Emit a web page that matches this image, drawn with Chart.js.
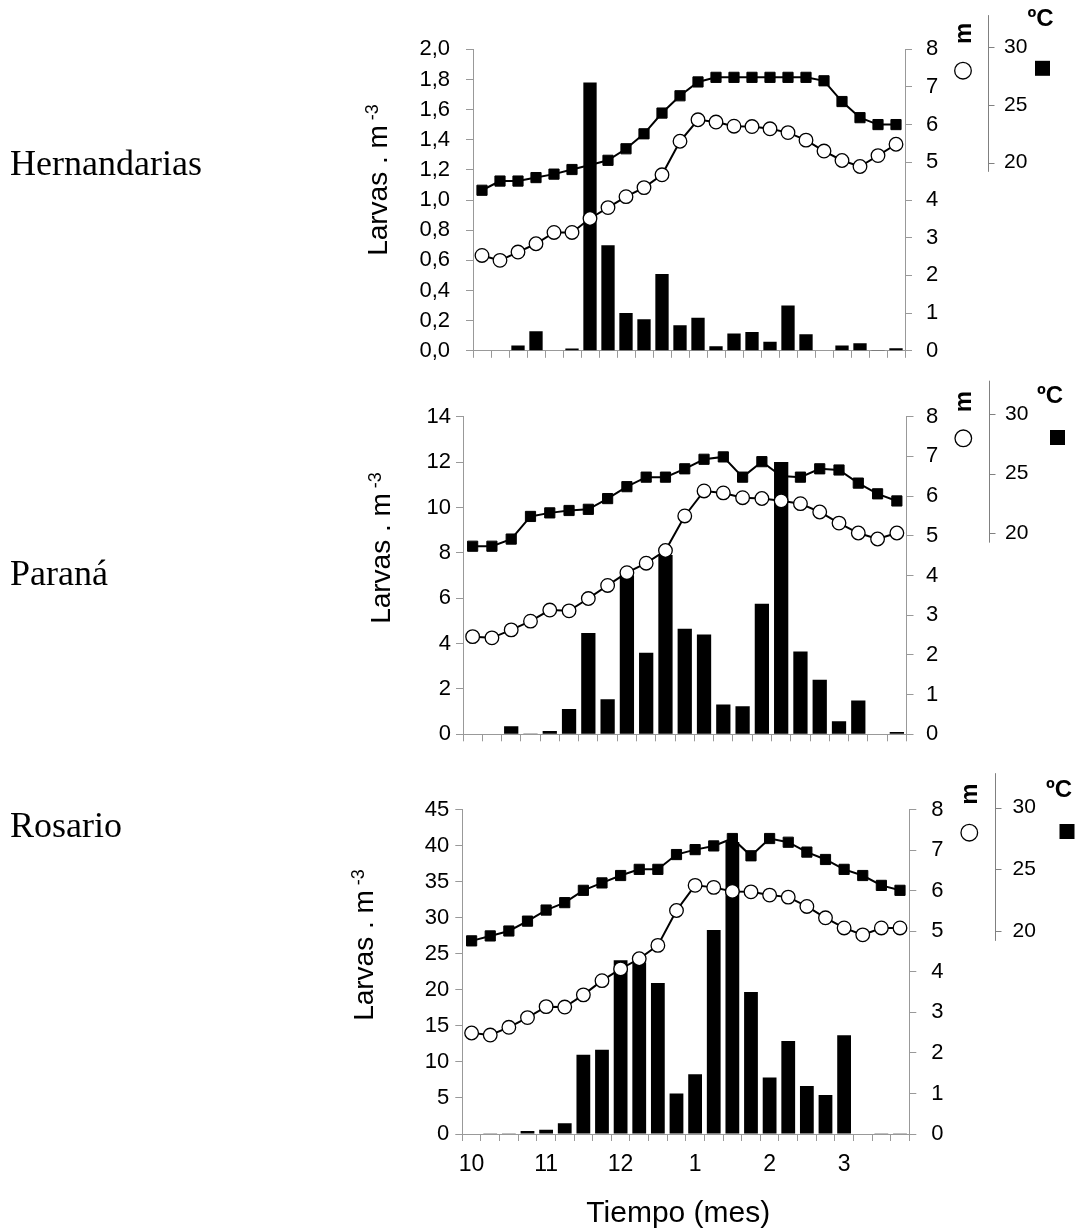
<!DOCTYPE html>
<html>
<head>
<meta charset="utf-8">
<script src="https://cdn.jsdelivr.net/npm/chart.js@4.4.1/dist/chart.umd.min.js"></script>
<style>
  html, body { margin: 0; padding: 0; background: #fff; }
  body { width: 1076px; height: 1229px; position: relative; overflow: hidden; }
  canvas { position: absolute; left: 0; }
</style>
</head>
<body>
<canvas id="chartHern" width="1076" height="380" style="top:0;width:1076px;height:380px"></canvas>
<canvas id="chartPara" width="1076" height="380" style="top:380px;width:1076px;height:380px"></canvas>
<canvas id="chartRos" width="1076" height="469" style="top:760px;width:1076px;height:469px"></canvas>
<script>
// muestreos semanales de octubre a marzo
const mesesTicks = ['10','','','','11','','','','12','','','','1','','','','2','','','','3','','',''];
const tempTicks = [20, 25, 30];

// Hernandarias
const larvasHern = [0, 0, 0.035, 0.13, 0, 0.015, 1.78, 0.70, 0.25, 0.21, 0.51, 0.17, 0.22, 0.03, 0.115, 0.125, 0.06, 0.30, 0.11, 0, 0.035, 0.05, 0.006, 0.017];
const nivelHern = [2.53, 2.40, 2.62, 2.84, 3.14, 3.14, 3.51, 3.80, 4.09, 4.33, 4.67, 5.56, 6.13, 6.07, 5.96, 5.95, 5.89, 5.79, 5.59, 5.30, 5.05, 4.89, 5.18, 5.48];
const tempHern = [17.6, 18.4, 18.4, 18.7, 19.0, 19.4, 19.8, 20.2, 21.2, 22.5, 24.3, 25.8, 27.0, 27.4, 27.4, 27.4, 27.4, 27.4, 27.4, 27.1, 25.3, 23.9, 23.3, 23.3];

// Paraná (23 muestreos)
const larvasPara = [0, 0, 0.36, 0.04, 0.15, 1.11, 4.46, 1.55, 7.0, 3.60, 7.9, 4.65, 4.40, 1.31, 1.24, 5.76, 12.0, 3.65, 2.41, 0.58, 1.49, 0.02, 0.10];
const nivelPara = [2.46, 2.43, 2.63, 2.85, 3.13, 3.11, 3.42, 3.75, 4.07, 4.31, 4.63, 5.50, 6.13, 6.08, 5.96, 5.94, 5.88, 5.81, 5.60, 5.32, 5.07, 4.92, 5.07];
const tempPara = [18.9, 18.9, 19.5, 21.4, 21.7, 21.9, 22.0, 22.9, 23.9, 24.7, 24.7, 25.4, 26.2, 26.4, 24.7, 26.0, 24.8, 24.7, 25.4, 25.3, 24.2, 23.3, 22.7];

// Rosario
const larvasRos = [0, 0.05, 0.05, 0.4, 0.6, 1.48, 11.0, 11.7, 24.1, 23.8, 20.95, 5.6, 8.3, 28.3, 40.5, 19.7, 7.85, 12.9, 6.65, 5.4, 13.7, 0.08, 0.04, 0.03];
const nivelRos = [2.49, 2.44, 2.63, 2.87, 3.14, 3.13, 3.43, 3.78, 4.07, 4.32, 4.65, 5.51, 6.13, 6.08, 5.98, 5.97, 5.89, 5.84, 5.61, 5.33, 5.08, 4.91, 5.08, 5.08];
const tempRos = [19.2, 19.6, 20.0, 20.8, 21.7, 22.3, 23.3, 23.9, 24.5, 25.0, 25.0, 26.2, 26.6, 26.9, 27.5, 26.1, 27.5, 27.2, 26.4, 25.8, 25.0, 24.5, 23.7, 23.3];

const SANS = '"Liberation Sans", Arial, sans-serif';
const SERIF = '"Liberation Serif", "Times New Roman", serif';
const GRIS = '#999999';

Chart.defaults.font.family = SANS;
Chart.defaults.color = '#000';

// posiciones de cada panel (coordenadas dentro de su canvas)
const paneles = [
  { id: 'chartHern', nombre: 'Hernandarias', alto: 380,
    area: { l: 473, r: 905, t: 49.3, b: 363.3 }, t30: 47.3, t20: 167.3,
    larvas: larvasHern, nivel: nivelHern, temp: tempHern,
    yMax: 2, paso: 0.2, dec: 1, padIzq: 16, padDer: 14,
    nombreY: 175, titulo: [386.7, 180], ejeT: 987.7, tLabX: 1004,
    mLbl: [963.3, 33.3], circ: [963, 70.7], grados: [1040.5, 19], cuad: [1042.5, 68.3] },
  { id: 'chartPara', nombre: 'Paraná', alto: 380,
    area: { l: 463, r: 906.5, t: 36.7, b: 356.7 }, t30: 34, t20: 154,
    larvas: larvasPara, nivel: nivelPara, temp: tempPara,
    yMax: 14, paso: 2, dec: 0, padIzq: 5, padDer: 12.5,
    nombreY: 205, titulo: [390, 168], ejeT: 988.7, tLabX: 1005,
    mLbl: [963.3, 21.7], circ: [963.3, 58.3], grados: [1050, 16.7], cuad: [1057.5, 57.5] },
  { id: 'chartRos', nombre: 'Rosario', alto: 469,
    area: { l: 462.3, r: 909.3, t: 49.5, b: 374 }, t30: 47.7, t20: 171,
    larvas: larvasRos, nivel: nivelRos, temp: tempRos,
    yMax: 45, paso: 5, dec: 0, padIzq: 6, padDer: 15,
    nombreY: 77, titulo: [373.3, 185], ejeT: 994.7, tLabX: 1012.5,
    mLbl: [969, 34], circ: [969.3, 72.7], grados: [1059, 30.5], cuad: [1067, 71.5],
    conMeses: true, xTitulo: [678.3, 461.7] }
];

function tituloLarvas(ctx, x, y) {
  ctx.save();
  ctx.translate(x, y);
  ctx.rotate(-Math.PI / 2);
  ctx.fillStyle = '#000';
  ctx.textAlign = 'left';
  ctx.textBaseline = 'alphabetic';
  const fPrin = '28px ' + SANS, fSup = '18px ' + SANS;
  ctx.font = fPrin;
  const w1 = ctx.measureText('Larvas . m').width;
  ctx.font = fSup;
  const w2 = ctx.measureText(' -3').width;
  const x0 = -(w1 + w2) / 2;
  ctx.font = fPrin;
  ctx.fillText('Larvas . m', x0, 0);
  ctx.font = fSup;
  ctx.fillText(' -3', x0 + w1, -9);
  ctx.restore();
}

// textos, eje de temperatura y simbolos de referencia
function crearExtras(p) {
  return {
    id: 'extras',
    afterDraw(chart) {
      const ctx = chart.ctx;
      const yT = chart.scales.yT;
      ctx.save();
      ctx.fillStyle = '#000';
      ctx.font = '36px ' + SERIF;
      ctx.textAlign = 'left';
      ctx.textBaseline = 'alphabetic';
      ctx.fillText(p.nombre, 10, p.nombreY);

      tituloLarvas(ctx, p.titulo[0], p.titulo[1]);

      if (p.xTitulo) {
        ctx.font = '30px ' + SANS;
        ctx.textAlign = 'center';
        ctx.fillText('Tiempo (mes)', p.xTitulo[0], p.xTitulo[1]);
      }

      // eje de temperatura
      const x = Math.round(p.ejeT) + 0.5;
      ctx.strokeStyle = '#808080';
      ctx.lineWidth = 1;
      ctx.beginPath();
      ctx.moveTo(x, yT.getPixelForValue(32.8));
      ctx.lineTo(x, yT.getPixelForValue(19.2));
      tempTicks.forEach(t => {
        const y = Math.round(yT.getPixelForValue(t)) + 0.5;
        ctx.moveTo(x, y);
        ctx.lineTo(x + 6, y);
      });
      ctx.stroke();
      ctx.font = '21px ' + SANS;
      ctx.textAlign = 'left';
      ctx.textBaseline = 'middle';
      tempTicks.forEach(t => ctx.fillText(String(t), p.tLabX, yT.getPixelForValue(t)));

      // m
      ctx.save();
      ctx.translate(p.mLbl[0], p.mLbl[1]);
      ctx.rotate(-Math.PI / 2);
      ctx.font = 'bold 24px ' + SANS;
      ctx.textAlign = 'center';
      ctx.fillText('m', 0, 1);
      ctx.restore();
      ctx.beginPath();
      ctx.arc(p.circ[0], p.circ[1], 8.3, 0, Math.PI * 2);
      ctx.fillStyle = '#fff';
      ctx.fill();
      ctx.strokeStyle = '#000';
      ctx.lineWidth = 1.3;
      ctx.stroke();

      // ºC
      ctx.fillStyle = '#000';
      ctx.font = 'bold 24px ' + SANS;
      ctx.textAlign = 'center';
      ctx.fillText('ºC', p.grados[0], p.grados[1]);
      ctx.fillRect(p.cuad[0] - 7.5, p.cuad[1] - 7.5, 15, 15);
      ctx.restore();
    }
  };
}

function dibujarPanel(p) {
  const a = p.area;
  const pxGrado = (p.t20 - p.t30) / 10;
  const n = p.larvas.length;

  new Chart(document.getElementById(p.id), {
    type: 'bar',
    data: {
      labels: mesesTicks.slice(0, n),
      datasets: [
        {
          type: 'line', label: 'Nivel (m)', data: p.nivel, yAxisID: 'yM',
          borderColor: '#000', borderWidth: 2, tension: 0,
          pointStyle: 'circle', pointRadius: 6.8, pointBorderWidth: 1.3,
          pointBackgroundColor: '#fff', pointBorderColor: '#000', order: 0
        },
        {
          type: 'line', label: 'Temperatura (ºC)', data: p.temp, yAxisID: 'yT',
          borderColor: '#000', borderWidth: 2, tension: 0,
          pointStyle: 'rect', pointRadius: 7.2, pointBorderWidth: 1,
          pointBackgroundColor: '#000', pointBorderColor: '#000', order: 1
        },
        {
          type: 'bar', label: 'Larvas', data: p.larvas, yAxisID: 'y',
          backgroundColor: '#000', borderWidth: 0,
          barPercentage: 0.74, categoryPercentage: 1, order: 2
        }
      ]
    },
    options: {
      responsive: false,
      devicePixelRatio: 1,
      animation: false,
      layout: { padding: { top: a.t, left: 0, right: 0, bottom: 0 } },
      plugins: { legend: { display: false }, tooltip: { enabled: false } },
      scales: {
        x: {
          offset: true,
          grid: { offset: true, drawOnChartArea: false, tickLength: 7, color: GRIS },
          border: { color: GRIS },
          ticks: { display: !!p.conMeses, autoSkip: false, maxRotation: 0, padding: 10,
                   font: { size: 23 }, color: '#000' },
          afterFit: s => { s.height = p.alto - a.b; }
        },
        y: {
          position: 'left', min: 0, max: p.yMax,
          grid: { drawOnChartArea: false, tickLength: 7, color: GRIS },
          border: { color: GRIS },
          ticks: { stepSize: p.paso, padding: p.padIzq, font: { size: 22 }, color: '#000',
                   callback: v => v.toFixed(p.dec).replace('.', ',') },
          afterFit: s => { s.width = a.l; }
        },
        yM: {
          position: 'right', min: 0, max: 8,
          grid: { drawOnChartArea: false, tickLength: 7, color: GRIS },
          border: { color: GRIS },
          ticks: { stepSize: 1, padding: p.padDer, font: { size: 22 }, color: '#000' },
          afterFit: s => { s.width = 1076 - a.r; }
        },
        yT: {
          display: false, position: 'right',
          min: 30 - (a.b - p.t30) / pxGrado,
          max: 30 - (a.t - p.t30) / pxGrado
        }
      }
    },
    plugins: [crearExtras(p)]
  });
}

paneles.forEach(dibujarPanel);
</script>
</body>
</html>
